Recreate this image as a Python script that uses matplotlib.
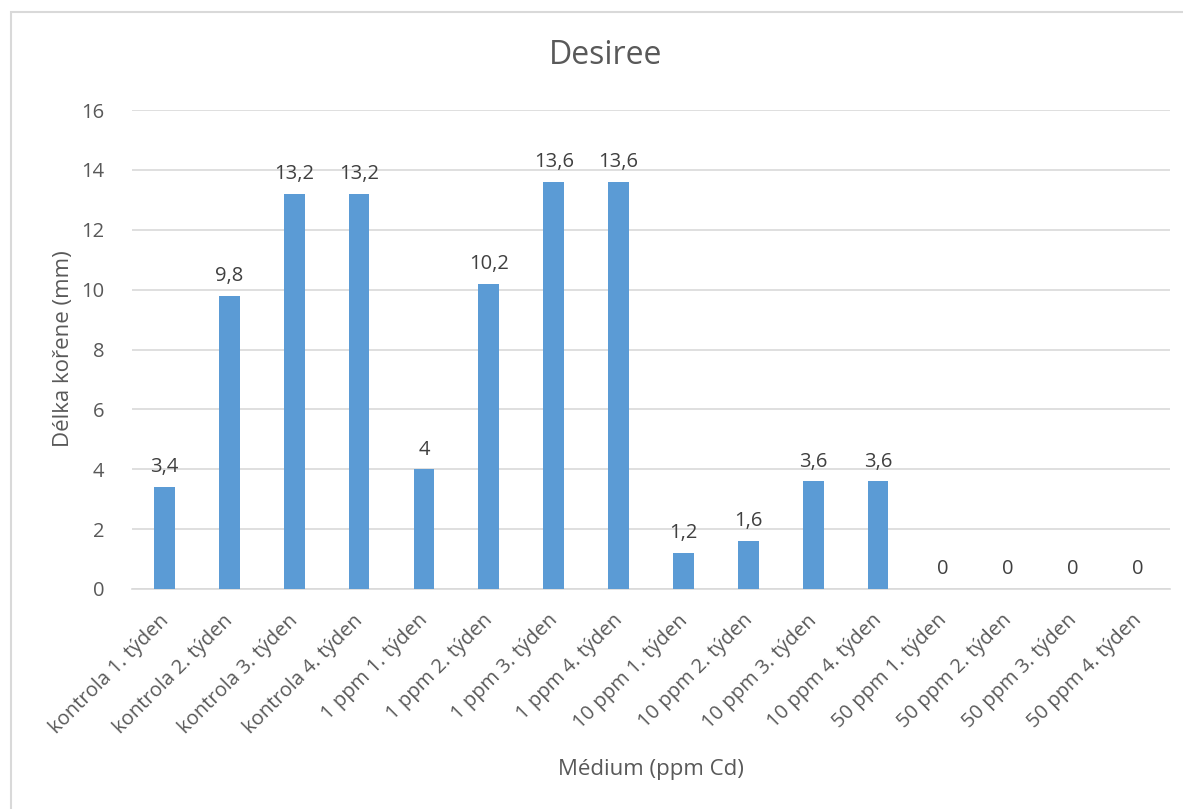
import matplotlib
matplotlib.use("Agg")
import matplotlib.pyplot as plt
from matplotlib.patches import Rectangle
from matplotlib.transforms import ScaledTranslation

categories = ["kontrola 1. týden", "kontrola 2. týden", "kontrola 3. týden", "kontrola 4. týden",
              "1 ppm 1. týden", "1 ppm 2. týden", "1 ppm 3. týden", "1 ppm 4. týden",
              "10 ppm 1. týden", "10 ppm 2. týden", "10 ppm 3. týden", "10 ppm 4. týden",
              "50 ppm 1. týden", "50 ppm 2. týden", "50 ppm 3. týden", "50 ppm 4. týden"]
values = [3.4, 9.8, 13.2, 13.2, 4, 10.2, 13.6, 13.6, 1.2, 1.6, 3.6, 3.6, 0, 0, 0, 0]
yticks = [0, 2, 4, 6, 8, 10, 12, 14, 16]
title = "Desiree"
xlabel = "Médium (ppm Cd)"
ylabel = "Délka kořene (mm)"

plt.rcParams['font.family'] = ['Open Sans', 'DejaVu Sans']
txt = "#595959"
W, H = 1183, 809
fig = plt.figure(figsize=(W/100, H/100), dpi=100)
fig.patches.append(Rectangle((11/W, -0.1), 1.2, 1.1 - 12/H, transform=fig.transFigure,
                             fill=False, edgecolor='#d9d9d9', linewidth=1.5, zorder=-5))

ax = fig.add_axes([132/W, 1 - 589/H, (1170-132)/W, (589-110)/H])
ax.set_facecolor('none')
x = list(range(len(categories)))
ax.bar(x, values, width=0.32, color='#5b9bd5', zorder=3)
ax.set_xlim(-0.5, len(categories) - 0.5)
ax.set_ylim(0, 16)
ax.set_yticks(yticks)
ax.set_yticklabels([str(t) for t in yticks], fontsize=14.5, color=txt)
ax.grid(axis='y', color='#d9d9d9', linewidth=1.2, zorder=0)
ax.tick_params(axis='both', length=0)
ax.tick_params(axis='y', pad=20)
ax.set_xticks(x)
ax.set_xticklabels(categories, rotation=45, ha='right', va='top', rotation_mode='anchor',
                   fontsize=14.5, color=txt)
ax.tick_params(axis='x', pad=14)
off = ScaledTranslation(-6/100, -2/100, fig.dpi_scale_trans)
for lbl in ax.get_xticklabels():
    lbl.set_transform(lbl.get_transform() + off)
for s in ['top', 'right', 'left']:
    ax.spines[s].set_visible(False)
ax.spines['bottom'].set_color('#d9d9d9')
ax.spines['bottom'].set_linewidth(1.2)

for xi, v in zip(x, values):
    lab = ('%g' % v).replace('.', ',')
    ax.annotate(lab, (xi, v), xytext=(0, 7), textcoords='offset points',
                ha='center', va='bottom', fontsize=14.5, color='#404040')

fig.text(606/W, 1 - 56/H, title, ha='center', va='center', fontsize=23, color=txt)
fig.text((132+1170)/2/W, 1 - 769/H, xlabel, ha='center', va='center', fontsize=16, color=txt)
fig.text(64/W, 1 - 349/H, ylabel, ha='center', va='center', rotation=90, fontsize=16, color=txt)

fig.savefig("out.png", dpi=100, facecolor='white')
